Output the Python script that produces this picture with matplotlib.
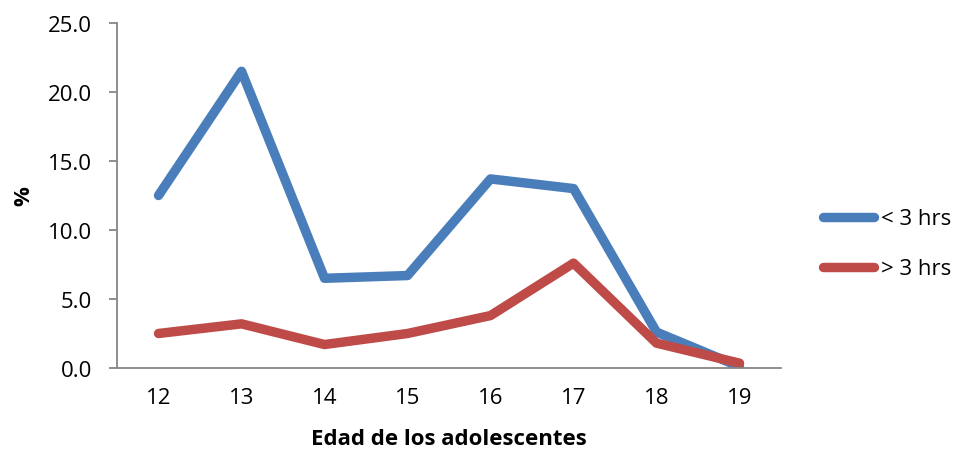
import matplotlib.pyplot as plt

plt.rcParams['font.family'] = ['Open Sans', 'DejaVu Sans']

# datos
edades = ['12', '13', '14', '15', '16', '17', '18', '19']
menos_3 = [12.5, 21.5, 6.5, 6.7, 13.7, 13.0, 2.6, 0.1]
mas_3 = [2.5, 3.2, 1.7, 2.5, 3.8, 7.6, 1.8, 0.35]
series_labels = ['< 3 hrs', '> 3 hrs']

fig = plt.figure(figsize=(9.56, 4.56), dpi=100)
ax = fig.add_axes([0.1224, 0.1908, 0.6946, 0.7566])

x = range(len(edades))
ax.plot(x, menos_3, color='#4A7EBB', linewidth=6.8, solid_capstyle='round',
        solid_joinstyle='round', label=series_labels[0])
ax.plot(x, mas_3, color='#BE4B48', linewidth=6.8, solid_capstyle='round',
        solid_joinstyle='round', label=series_labels[1])

ax.set_xlim(-0.5, len(edades) - 0.5)
ax.set_ylim(0, 25)
ax.set_yticks([0, 5, 10, 15, 20, 25])
ax.set_yticklabels([f"{v:.1f}" for v in [0, 5, 10, 15, 20, 25]])
ax.set_xticks(list(x))
ax.set_xticklabels(edades)

for s in ['top', 'right']:
    ax.spines[s].set_visible(False)
for s in ['left', 'bottom']:
    ax.spines[s].set_color('#868686')
    ax.spines[s].set_linewidth(1.3)

ax.tick_params(axis='y', length=6, width=1.3, color='#868686', pad=12, labelsize=16)
ax.tick_params(axis='x', length=0, pad=14, labelsize=16)

ax.set_xlabel("Edad de los adolescentes", fontsize=16, fontweight='bold', labelpad=14)
ax.set_ylabel("%", fontsize=16, fontweight='bold', labelpad=10)

fig.legend(loc='center left', bbox_to_anchor=(823 / 956, 0.463), frameon=False,
           fontsize=16, handlelength=2.3, handletextpad=0.3, labelspacing=1.3,
           borderpad=0, borderaxespad=0)

fig.savefig('out.png', dpi=100)
